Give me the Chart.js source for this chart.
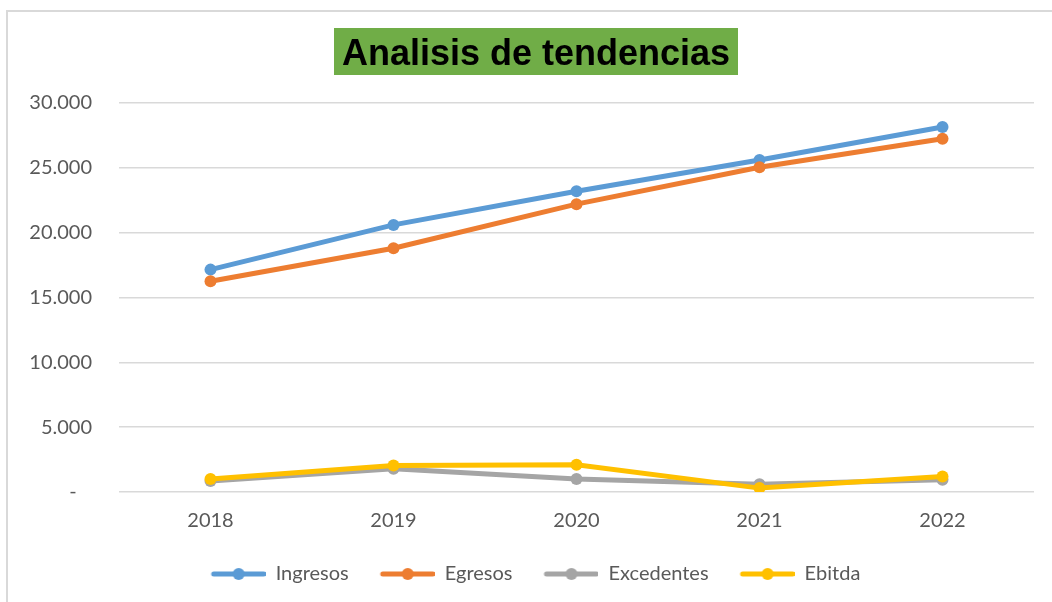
<!DOCTYPE html>
<html>
<head>
<meta charset="utf-8">
<script src="https://cdn.jsdelivr.net/npm/chart.js@4.4.1/dist/chart.umd.min.js"></script>
<style>
  body { margin: 0; background: #fff; overflow: hidden; }
  #wrap { position: relative; width: 1052px; height: 602px; }
  #marco {
    position: absolute; left: 6px; top: 10px; width: 1100px; height: 650px;
    border-left: 2px solid #d9d9d9; border-top: 2px solid #d9d9d9;
    pointer-events: none;
  }
  canvas { position: absolute; left: 0; top: 0; }
</style>
</head>
<body>
<div id="wrap">
  <canvas id="grafico" width="1052" height="602"></canvas>
  <div id="marco"></div>
</div>
<script>
//Datos del grafico
const anios = ["2018", "2019", "2020", "2021", "2022"];
const ingresos = [17150, 20600, 23200, 25600, 28150];
const egresos = [16250, 18800, 22200, 25050, 27250];
const excedentes = [850, 1800, 1000, 600, 950];
const ebitda = [1000, 2050, 2100, 300, 1200];
const series = ["Ingresos", "Egresos", "Excedentes", "Ebitda"];
const colores = ["#5B9BD5", "#ED7D31", "#A5A5A5", "#FFC000"];
const titulo = "Analisis de tendencias";

const fuente = "Lato, 'Open Sans', sans-serif";

//Formato de miles con punto
function formatoMiles(v) {
  if (v === 0) return "-   ";
  return String(v).replace(/\B(?=(\d{3})+(?!\d))/g, ".");
}

//Muestra de la leyenda: linea con circulo
function muestra(color) {
  const c = document.createElement("canvas");
  c.width = 66;
  c.height = 14;
  const g = c.getContext("2d");
  g.strokeStyle = color;
  g.lineWidth = 5;
  g.lineCap = "round";
  g.beginPath();
  g.moveTo(14, 7);
  g.lineTo(64, 7);
  g.stroke();
  g.fillStyle = color;
  g.beginPath();
  g.arc(39, 7, 6, 0, Math.PI * 2);
  g.fill();
  return c;
}

//Titulo con fondo verde
const tituloVerde = {
  id: "tituloVerde",
  afterDraw(chart) {
    const ctx = chart.ctx;
    ctx.save();
    ctx.font = "bold 36px 'Liberation Sans', Arial, sans-serif";
    const ancho = Math.min(ctx.measureText(titulo).width, 388);
    const cx = 536;
    ctx.fillStyle = "#70AD47";
    ctx.fillRect(cx - ancho / 2 - 8, 28, ancho + 16, 47);
    ctx.fillStyle = "#000";
    ctx.textAlign = "center";
    ctx.textBaseline = "alphabetic";
    ctx.fillText(titulo, cx, 65, 388);
    ctx.restore();
  },
};

const valores = [ingresos, egresos, excedentes, ebitda];
const datasets = series.map((nombre, i) => ({
  label: nombre,
  data: valores[i],
  borderColor: colores[i],
  backgroundColor: colores[i],
  borderWidth: 5,
  pointRadius: 6,
  pointHoverRadius: 6,
  pointBorderWidth: 0,
  tension: 0,
  order: series.length - 1 - i,
}));

new Chart(document.getElementById("grafico").getContext("2d"), {
  type: "line",
  data: { labels: anios, datasets: datasets },
  options: {
    responsive: false,
    animation: false,
    layout: { padding: { top: 103, right: 18, bottom: 8, left: 26 } },
    plugins: {
      title: { display: false },
      tooltip: { enabled: false },
      legend: {
        position: "bottom",
        labels: {
          usePointStyle: true,
          pointStyleWidth: 66,
          padding: 20,
          color: "#595959",
          font: { family: fuente, size: 20 },
          sort: (a, b) => a.datasetIndex - b.datasetIndex,
          generateLabels(chart) {
            return Chart.defaults.plugins.legend.labels
              .generateLabels(chart)
              .map((l) => Object.assign(l, { pointStyle: muestra(colores[l.datasetIndex]) }));
          },
        },
      },
    },
    scales: {
      x: {
        offset: true,
        grid: { display: false, drawTicks: false },
        border: { display: false },
        ticks: { color: "#595959", font: { family: fuente, size: 20 }, padding: 17 },
        afterFit(scale) { scale.height = 52; },
      },
      y: {
        min: 0,
        max: 30000,
        grid: { color: "#d9d9d9", lineWidth: 1.5, drawTicks: false },
        border: { display: false },
        ticks: {
          stepSize: 5000,
          color: "#595959",
          font: { family: fuente, size: 20 },
          padding: 27,
          callback: (v) => formatoMiles(v),
        },
        afterFit(scale) { scale.width = 93; },
      },
    },
  },
  plugins: [tituloVerde],
});
</script>
</body>
</html>
